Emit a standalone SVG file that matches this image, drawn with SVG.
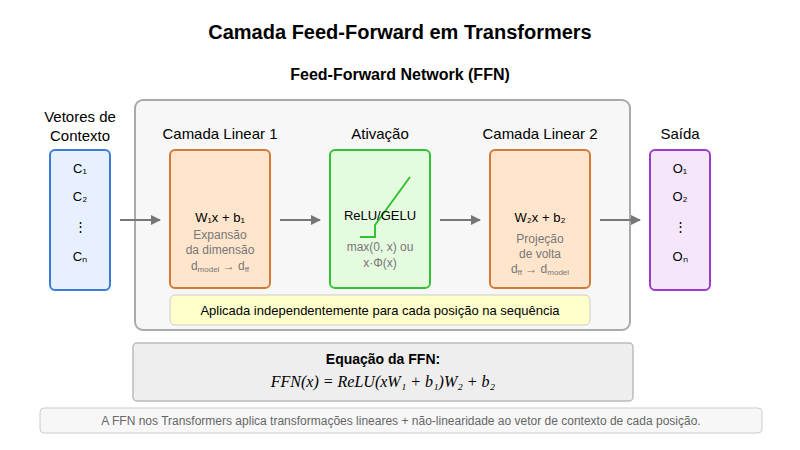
<svg xmlns="http://www.w3.org/2000/svg" width="800" height="450" viewBox="0 0 800 450">
<defs>
<style>
text{font-family:"Liberation Sans",Arial,sans-serif;text-anchor:middle;fill:#000}
.t{font-size:15px}
.g{fill:#777;font-size:12px}
.s{font-size:13px}
.conn{stroke:#777;stroke-width:2;fill:none}
</style>
<marker id="ah" markerWidth="10" markerHeight="10" refX="9" refY="5" orient="auto" markerUnits="userSpaceOnUse"><path d="M0,0 L10,5 L0,10 z" fill="#777"/></marker>
</defs>
<rect width="800" height="450" fill="#fff"/>
<text x="400" y="39" style="font-size:20px;font-weight:bold">Camada Feed-Forward em Transformers</text>
<g id="ffn">
<rect x="135" y="100" width="495" height="230" rx="8" fill="#f7f7f7" stroke="#aaa" stroke-width="2"/>
<text x="400" y="80" style="font-size:16px;font-weight:bold">Feed-Forward Network (FFN)</text>
</g>
<g id="input">
<text x="80" y="122" class="t">Vetores de</text><text x="80" y="141" class="t">Contexto</text>
<rect x="50" y="150" width="60" height="140" rx="5" fill="#e6f0ff" stroke="#3a7bd5" stroke-width="2"/>
<text x="80" y="173" class="s">C₁</text><text x="80" y="201" class="s">C₂</text><text x="80" y="231" class="s">⋮</text><text x="80" y="261" class="s">Cₙ</text>
</g>
<g id="linear1">
<text x="220" y="139" class="t">Camada Linear 1</text>
<rect x="170" y="150" width="100" height="138" rx="5" fill="#ffe5cc" stroke="#d07a35" stroke-width="2"/>
<text x="220" y="222" class="s">W₁x + b₁</text>
<text x="220" y="239" class="g">Expansão</text><text x="220" y="254" class="g">da dimensão</text>
<text x="220" y="270" class="g">d<tspan font-size="8" dy="2">model</tspan><tspan dy="-2"> → d</tspan><tspan font-size="8" dy="2">ff</tspan></text>
</g>
<g id="activation">
<text x="380" y="139" class="t">Ativação</text>
<rect x="330" y="150" width="100" height="138" rx="5" fill="#e5fbe0" stroke="#33c233" stroke-width="2"/>
<polyline points="360,237 375,237 375,225 410,177" fill="none" stroke="#33c233" stroke-width="2"/>
<text x="380" y="220" class="s">ReLU/GELU</text>
<text x="380" y="251" class="g">max(0, x) ou</text><text x="380" y="267" class="g">x·Φ(x)</text>
</g>
<g id="linear2">
<text x="540" y="139" class="t">Camada Linear 2</text>
<rect x="490" y="150" width="100" height="138" rx="5" fill="#ffe5cc" stroke="#d07a35" stroke-width="2"/>
<text x="540" y="222" class="s">W₂x + b₂</text>
<text x="540" y="243" class="g">Projeção</text><text x="540" y="258" class="g">de volta</text>
<text x="540" y="273" class="g">d<tspan font-size="8" dy="2">ff</tspan><tspan dy="-2"> → d</tspan><tspan font-size="8" dy="2">model</tspan></text>
</g>
<g id="output">
<text x="680" y="139" class="t">Saída</text>
<rect x="650" y="150" width="60" height="140" rx="5" fill="#f5e6fb" stroke="#9b3cc9" stroke-width="2"/>
<text x="680" y="173" class="s">O₁</text><text x="680" y="201" class="s">O₂</text><text x="680" y="231" class="s">⋮</text><text x="680" y="261" class="s">Oₙ</text>
</g>
<g id="note">
<rect x="170" y="295" width="420" height="30" rx="5" fill="#ffffcc" stroke="#ccc" stroke-width="1"/>
<text x="380" y="315" class="s">Aplicada independentemente para cada posição na sequência</text>
</g>
<g id="connectors">
<line x1="120" y1="220" x2="160" y2="220" class="conn" marker-end="url(#ah)"/>
<line x1="280" y1="220" x2="320" y2="220" class="conn" marker-end="url(#ah)"/>
<line x1="440" y1="220" x2="480" y2="220" class="conn" marker-end="url(#ah)"/>
<line x1="600" y1="220" x2="640" y2="220" class="conn" marker-end="url(#ah)"/>
</g>
<g id="equation">
<rect x="133" y="343" width="500" height="58" rx="4" fill="#eee" stroke="#bbb" stroke-width="1.5"/>
<text x="383" y="364" style="font-size:14px;font-weight:bold">Equação da FFN:</text>
<text x="383" y="387" style="font-family:'Liberation Serif',serif;font-style:italic;font-size:16px">FFN(x) = ReLU(xW₁ + b₁)W₂ + b₂</text>
</g>
<g id="footer">
<rect x="40" y="408" width="722" height="25" rx="4" fill="#f7f7f7" stroke="#ccc" stroke-width="1"/>
<text x="401" y="425" style="font-size:12px;fill:#666">A FFN nos Transformers aplica transformações lineares + não-linearidade ao vetor de contexto de cada posição.</text>
</g>
</svg>
